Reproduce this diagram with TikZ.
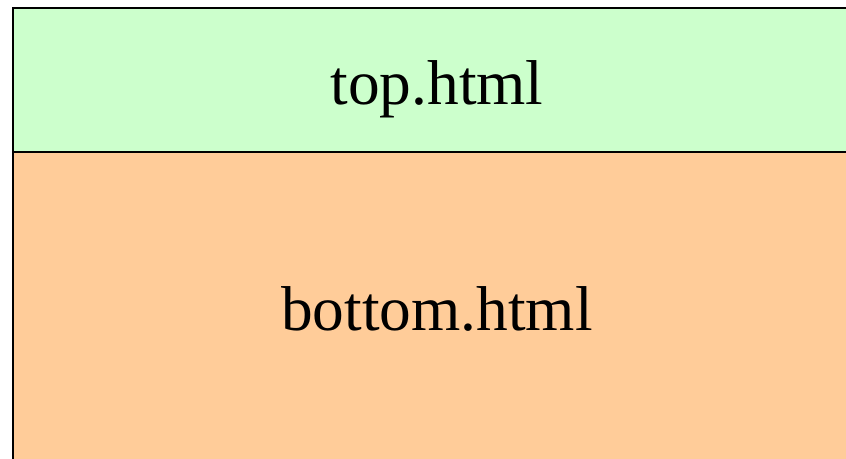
\documentclass[tikz,border=0pt]{standalone}
\usepackage{fontspec}
\setmainfont{Liberation Serif}
\usepackage{tikz}
\definecolor{topgreen}{HTML}{CCFFCC}
\definecolor{bottomorange}{HTML}{FFCC99}

\begin{document}
\begin{tikzpicture}[x=0.75pt,y=-0.75pt,
  frametext/.style={font=\fontsize{47.5}{57}\selectfont, anchor=base, inner sep=0pt}]
\useasboundingbox (0,0) rectangle (846,458);
\clip (0,0) rectangle (846,458);
\draw [black, fill=topgreen, line width=1.5pt] (12.5,8) rectangle (870,152);
\draw [black, fill=bottomorange, line width=1.5pt] (12.5,152) rectangle (870,480);

\node [frametext] (top) at (437,104) {top.html};
\node [frametext] (bottom) at (437,330) {bottom.html};
\end{tikzpicture}
\end{document}
